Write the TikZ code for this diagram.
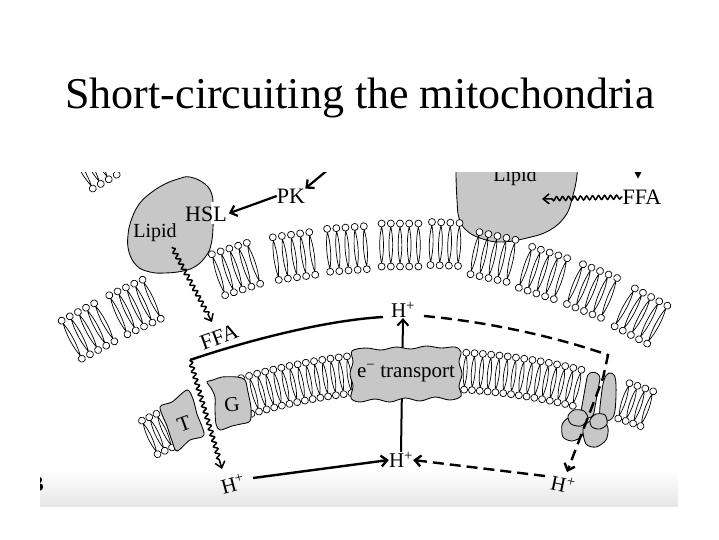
\documentclass[tikz,border=0pt]{standalone}
\usepackage{fontspec}
\setmainfont{Liberation Serif}
\usetikzlibrary{arrows.meta,decorations.pathmorphing}
\definecolor{protgray}{gray}{0.78}
\tikzset{
  lipidtail/.style={line width=0.7pt},
  lipidhead/.style={fill=white,draw=black,line width=0.7pt},
  prot/.style={fill=protgray,draw=black,line width=0.85pt},
  lbl/.style={font=\fontsize{21}{23}\selectfont,inner sep=0pt},
  barb/.style={-{Straight Barb[length=6pt,width=11pt]}},
  thickarr/.style={line width=2.2pt,barb},
  circ/.style={line width=2.4pt},
  dashcirc/.style={line width=2.4pt,dash pattern=on 11pt off 6pt},
  wavyarr/.style={line width=1.5pt,decorate,
    decoration={snake,amplitude=2pt,segment length=6pt,pre length=1pt,post length=7pt},
    -{Straight Barb[length=6pt,width=10pt]}},
  varr/.style={line width=2pt,barb}
}
% cx, cy, tilt angle, number of lipids, half height, spacing
\newcommand{\lipidpatch}[6]{%
  \begin{scope}[shift={(#1,#2)},rotate={0-(#3)}]
    \pgfmathtruncatemacro{\lpn}{#4-1}
    \foreach \li in {0,...,\lpn}{
      \pgfmathsetmacro{\lx}{(\li-\lpn/2)*#6}
      \draw[lipidtail] (\lx,-#5+3) .. controls (\lx-2.5,-#5/3) and (\lx-2.5,#5/3) .. (\lx,#5-3)
        .. controls (\lx+2.5,#5/3) and (\lx+2.5,-#5/3) .. cycle;
      \draw[lipidhead] (\lx,-#5) circle (3.5);
      \draw[lipidhead] (\lx,#5) circle (3.5);
    }
  \end{scope}}
\begin{document}
\begin{tikzpicture}[x=1pt,y=-1pt]
\useasboundingbox (0,0) rectangle (719,539);
\node[anchor=base,font=\fontsize{44}{50}\selectfont,inner sep=0pt] (title) at (360,108) {Short-circuiting the mitochondria};

\begin{scope}
\clip (40,172) rectangle (678,506);
\shade[top color=white,bottom color=black!10] (40,470) rectangle (678,506);
\node[lbl,font=\fontsize{22}{24}\selectfont\bfseries,anchor=base east] (flabel) at (44,491) {B};

% lipid droplets
\draw[prot] plot[smooth cycle,tension=0.7] coordinates {(190,177) (205,184) (212,195) (213,210) (213,228) (211,245) (206,256) (196,266) (183,271) (165,273) (150,272) (137,266) (129,252) (128,235) (132,218) (140,203) (152,192) (165,184) (178,179)};
\fill[white] (210.5,202) rectangle (216,224);
\draw[prot] plot[smooth,tension=0.7] coordinates {(456,150) (456,175) (457,200) (459,218) (466,230) (480,238) (500,242) (527,238) (550,230) (566,215) (573,195) (577,175) (578,150)} -- cycle;

\node[lbl,font=\fontsize{20}{22}\selectfont] (lipidL) at (155,233) {Lipid};
\node[lbl,font=\fontsize{20}{22}\selectfont,anchor=base] (lipidR) at (515,181) {Lipid};
\node[lbl,font=\fontsize{22}{24}\selectfont] (hsl) at (206,214) {HSL};
\node[lbl,font=\fontsize{22}{24}\selectfont] (pk) at (291,196) {PK};
\node[lbl,font=\fontsize{22}{24}\selectfont] (ffaR) at (642,197) {FFA};
\node[lbl,font=\fontsize{22}{24}\selectfont,rotate=20] (ffaL) at (219,337) {FFA};

\coordinate (pkin) at (330,168);
\draw[thickarr] (pkin) -- (pk.north east);
\draw[thickarr,shorten >=2pt] (pk.west) -- (hsl.east);
\coordinate (wavyA) at (172,247);
\coordinate (wavyAend) at (212,322);
\draw[wavyarr] (wavyA) -- (wavyAend);
\coordinate (blobtip) at (542,199);
\draw[wavyarr] (ffaR.west) -- (blobtip);
\fill (634.5,172) -- (641.5,172) -- (638,178.5) -- cycle;

% outer membrane patches
\lipidpatch{94}{163}{-30}{4}{21.5}{9.2}
\lipidpatch{88}{331}{-28}{5}{21.5}{9.2}
\lipidpatch{135}{307}{-25}{5}{21.5}{9.2}
\lipidpatch{236}{269}{-18}{5}{21.5}{9.2}
\lipidpatch{294}{256}{-8}{5}{21.5}{9.2}
\lipidpatch{347}{249}{-4}{5}{21.5}{9.2}
\lipidpatch{400}{245}{0}{5}{21.5}{9.2}
\lipidpatch{445}{244}{2}{4}{21.5}{9.2}
\lipidpatch{493}{257}{12}{5}{21.5}{9.2}
\lipidpatch{543}{273}{18}{5}{21.5}{9.2}
\lipidpatch{592}{291}{22}{5}{21.5}{9.2}
\lipidpatch{641}{316}{28}{5}{21.5}{9.2}

% inner membrane
\lipidpatch{157}{434}{-25}{3}{18.5}{8}
\foreach \k in {0,...,13}{
  \pgfmathsetmacro{\lt}{-16.3+0.72*\k}
  \pgfmathsetmacro{\ax}{427+644*sin(\lt)}
  \pgfmathsetmacro{\ay}{1014-644*cos(\lt)}
  \lipidpatch{\ax}{\ay}{\lt}{1}{18.5}{8}
}
\foreach \k in {0,...,14,20,21,22,23}{
  \pgfmathsetmacro{\lt}{3.4+0.72*\k}
  \pgfmathsetmacro{\ax}{427+644*sin(\lt)}
  \pgfmathsetmacro{\ay}{1014-644*cos(\lt)}
  \lipidpatch{\ax}{\ay}{\lt}{1}{18.5}{8}
}

% H+ labels
\node[lbl] (htop) at (403,310) {H\textsuperscript{+}};
\node[lbl] (hbot) at (401,460) {H\textsuperscript{+}};
\node[lbl,rotate=15] (hbl) at (233,484) {H\textsuperscript{+}};
\node[lbl,rotate=-12] (hbr) at (563,484) {H\textsuperscript{+}};

% electron transport
\draw[varr] (hbot.north) -- (htop.south);
\draw[prot] plot[smooth cycle,tension=0.6] coordinates {(352,351) (366,348) (381,350) (396,347) (411,349) (426,346) (441,348) (455,347) (461,352) (459,362) (462,374) (459,386) (461,396) (450,400) (435,397) (420,401) (405,398) (390,402) (375,399) (360,402) (351,398) (353,386) (350,374) (353,362)};
\node[lbl] (etr) at (406,373) {e\textsuperscript{−} transport};

% G and T proteins
\draw[prot] plot[smooth cycle,tension=0.5] coordinates {(207,382) (213,380) (222,377) (237,377) (245,380) (248,392) (251,408) (250,421) (241,424) (232,426) (220,430) (216,424) (215,410) (215,397) (211,388)};
\node[lbl,rotate=8] (glab) at (232,405) {G};
\draw[prot] plot[smooth cycle,tension=0.5] coordinates {(160,407) (172,402) (187,390) (193,399) (197,414) (204,435) (190,440) (177,451) (172,441) (167,426)};
\node[lbl,rotate=20] (tlab) at (184,424) {T};

% ATP synthase
\draw[prot,rotate around={-10:(590,395)},rounded corners=6pt] (584,372) rectangle (597,418);
\draw[prot] plot[smooth cycle,tension=0.6] coordinates {(609,373) (615,377) (616,395) (614,415) (607,421) (600,416) (601,398) (604,380)};
\draw[prot] plot[smooth cycle] coordinates {(562,425) (568,418) (578,417) (584,424) (582,436) (572,441) (563,437)};
\draw[prot] plot[smooth cycle] coordinates {(568,416) (574,410) (584,411) (588,419) (581,426) (571,424)};
\draw[prot] plot[smooth cycle] coordinates {(583,429) (590,421) (602,420) (608,428) (606,440) (596,447) (586,444)};
\draw[prot] plot[smooth cycle] coordinates {(590,420) (596,414) (605,415) (607,424) (600,429) (592,427)};

% proton circuit
\coordinate (cL) at (190,360);
\coordinate (topL) at (383,317);
\coordinate (topR) at (424,316);
\coordinate (cR) at (608,355);
\coordinate (bend) at (603,378);
\coordinate (tipR) at (567,472);
\coordinate (tipL) at (222,469);
\coordinate (botL) at (253,478);
\coordinate (botR) at (545,476);
\draw[circ] (cL) .. controls (255,338) and (330,320) .. (topL);
\draw[dashcirc,barb] (topR) .. controls (490,322) and (560,338) .. (cR) -- (bend) -- (tipR);
\draw[wavyarr] (cL) -- (tipL);
\draw[circ,barb] (botL) -- (hbot.west);
\draw[dashcirc,barb] (botR) -- (hbot.east);
\end{scope}
\end{tikzpicture}
\end{document}
